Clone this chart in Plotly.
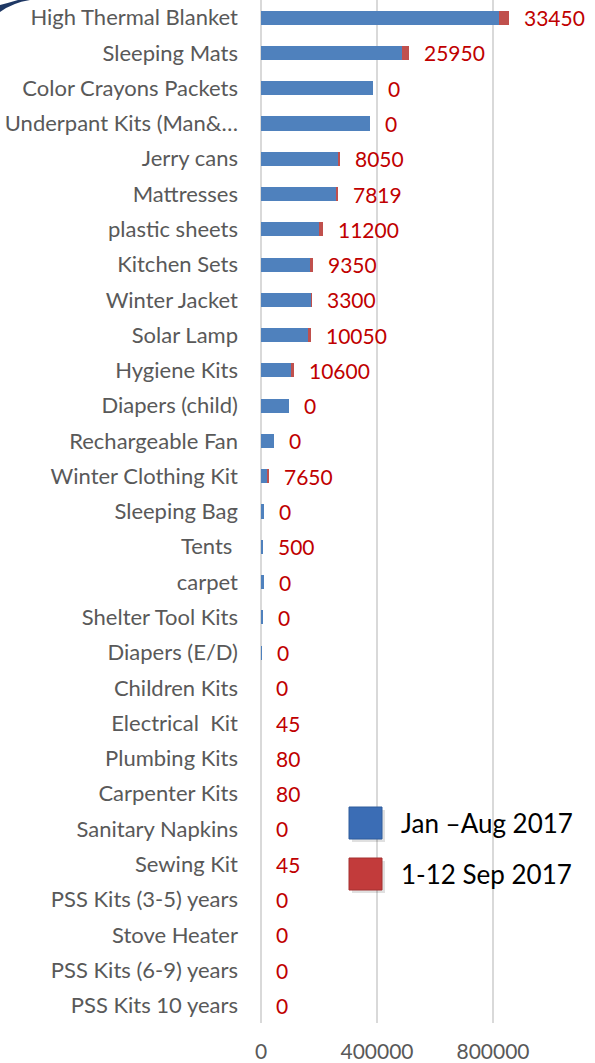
import plotly.graph_objects as go

categories = [
    "High Thermal Blanket", "Sleeping Mats", "Color Crayons Packets", "Underpant Kits (Man&…",
    "Jerry cans", "Mattresses", "plastic sheets", "Kitchen Sets", "Winter Jacket", "Solar Lamp",
    "Hygiene Kits", "Diapers (child)", "Rechargeable Fan", "Winter Clothing Kit", "Sleeping Bag",
    "Tents ", "carpet", "Shelter Tool Kits", "Diapers (E/D)", "Children Kits", "Electrical  Kit",
    "Plumbing Kits", "Carpenter Kits", "Sanitary Napkins", "Sewing Kit", "PSS Kits (3-5) years",
    "Stove Heater", "PSS Kits (6-9) years", "PSS Kits 10 years",
]
jan_aug_2017 = [
    822000, 485000, 386000, 377000, 266000, 257000, 201000, 169000, 172000, 163000,
    104000, 98000, 46000, 19500, 11500, 8000, 9000, 6000, 3000, 1000, 1500,
    1500, 1000, 500, 500, 300, 300, 300, 300,
]
sep_1_12_2017 = [
    33450, 25950, 0, 0, 8050, 7819, 11200, 9350, 3300, 10050,
    10600, 0, 0, 7650, 0, 500, 0, 0, 0, 0, 45,
    80, 80, 0, 45, 0, 0, 0, 0,
]
series_names = ["Jan –Aug 2017", "1-12 Sep 2017"]
x_ticks = [0, 400000, 800000]

BLUE = "#4F81BD"
RED = "#C0504D"
FONT = "Lato"

fig = go.Figure()
fig.add_trace(go.Bar(y=categories, x=jan_aug_2017, orientation="h", name=series_names[0],
                     marker=dict(color=BLUE, line=dict(width=0)), hoverinfo="skip"))
fig.add_trace(go.Bar(y=categories, x=sep_1_12_2017, orientation="h", name=series_names[1],
                     marker=dict(color=RED, line=dict(width=0)), hoverinfo="skip"))

annotations = []
for c, a, b in zip(categories, jan_aug_2017, sep_1_12_2017):
    annotations.append(dict(x=a + b, y=c, xref="x", yref="y", text=str(b), showarrow=False,
                            xanchor="left", yanchor="middle", xshift=13,
                            font=dict(family=FONT, size=21, color="#C00000")))

# custom legend
legend_items = [(series_names[0], "#3b6db5", "#2f5c9c", 823), (series_names[1], "#c23b3b", "#a53030", 874)]
shapes = []
for name, fill, edge, yc in legend_items:
    shapes.append(dict(type="rect", xref="paper", yref="paper",
                       x0=(352 - 261) / 334, x1=(385 - 261) / 334,
                       y0=(1023 - (yc + 19)) / 1023, y1=(1023 - (yc - 13)) / 1023,
                       fillcolor="rgba(0,0,0,0.12)", line=dict(width=0), layer="above"))
    shapes.append(dict(type="rect", xref="paper", yref="paper",
                       x0=(349 - 261) / 334, x1=(382 - 261) / 334,
                       y0=(1023 - (yc + 16)) / 1023, y1=(1023 - (yc - 16)) / 1023,
                       fillcolor=fill, line=dict(color=edge, width=1), layer="above"))
    annotations.append(dict(x=(399 - 261) / 334, y=(1023 - yc) / 1023, xref="paper", yref="paper",
                            text=name, showarrow=False, xanchor="left", yanchor="middle",
                            font=dict(family=FONT, size=26, color="#000000")))

# decorative swoosh top-left (thin navy crescent)
def px(x):
    return (x - 261) / 334


def py(y):
    return (1023 - y) / 1023


shapes.append(dict(type="path", xref="paper", yref="paper", layer="above",
                   path="M %f %f Q %f %f %f %f L %f %f Q %f %f %f %f Z" % (
                       px(0), py(12), px(12), py(3), px(30), py(0),
                       px(18), py(0), px(8), py(3), px(0), py(5)),
                   fillcolor="#1f3864", line=dict(width=0)))

fig.update_layout(
    barmode="stack",
    bargap=0.6,
    width=595, height=1063,
    margin=dict(l=261, r=0, t=0, b=40),
    paper_bgcolor="white", plot_bgcolor="white",
    showlegend=False,
    hovermode=False,
    annotations=annotations,
    shapes=shapes,
    xaxis=dict(range=[0, 1151700], tickvals=x_ticks, ticktext=[str(v) for v in x_ticks],
               showgrid=True, gridcolor="#D9D9D9", gridwidth=2, zeroline=True,
               zerolinecolor="#D9D9D9", zerolinewidth=2, showline=False, ticks="",
               automargin=False, fixedrange=True,
               tickfont=dict(family=FONT, size=21, color="#595959"), ticklabelstandoff=14),
    yaxis=dict(autorange="reversed", showgrid=False, zeroline=False, showline=False, ticks="",
               automargin=False, fixedrange=True,
               tickfont=dict(family=FONT, size=22, color="#595959"), ticklabelstandoff=22),
)

fig.write_html("out.html", config={"displayModeBar": False, "staticPlot": True},
               post_script="document.body.style.margin='0';document.body.style.overflow='hidden';")
